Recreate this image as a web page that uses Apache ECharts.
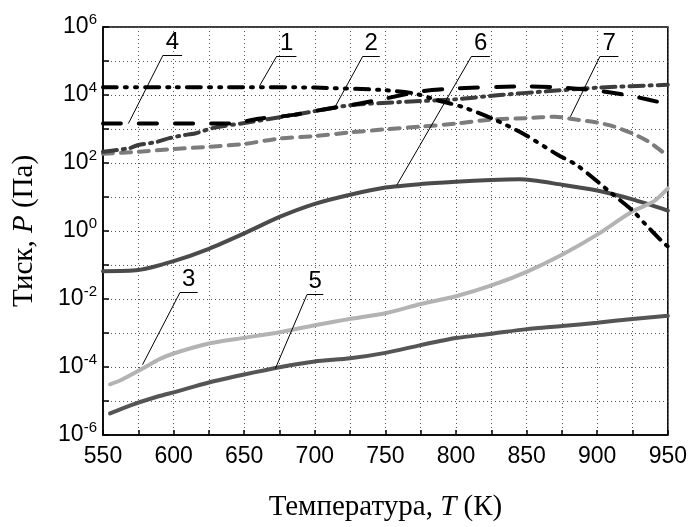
<!DOCTYPE html>
<html>
<head>
<meta charset="utf-8">
<script src="https://cdn.jsdelivr.net/npm/echarts@6/dist/echarts.min.js"></script>
<style>html,body{margin:0;padding:0;background:#fff}#c{width:690px;height:527px}</style>
</head>
<body>
<div id="c"></div>
<script>
// Temperature (K) and pressure (Pa) per curve
var t1 = [550, 600, 650, 700, 748, 770, 787, 805, 826, 847, 872, 886, 910, 925, 934, 946, 950];
var p1 = [1.7e4, 1.7e4, 1.7e4, 1.65e4, 1.4e4, 1.12e4, 7.0e3, 4.4e3, 2.0e3, 7.5e2, 1.75e2, 84, 13, 4, 1.6, 0.49, 0.35];

var t2 = [550, 569, 575, 587, 597, 606, 615, 629, 650, 685, 725, 760, 800, 831, 864, 902, 950];
var p2 = [214, 275, 340, 407, 537, 650, 740, 1.1e3, 1.5e3, 2.6e3, 5.0e3, 6.2e3, 7.5e3, 1.0e4, 1.28e4, 1.66e4, 2.0e4];

var t3 = [555, 562, 578, 590, 600, 625, 650, 675, 700, 725, 750, 775, 800, 825, 850, 875, 900, 925, 940, 950];
var p3 = [3.1e-5, 4.0e-5, 9.0e-5, 1.7e-4, 2.5e-4, 4.9e-4, 7.2e-4, 1.05e-3, 1.7e-3, 2.6e-3, 3.8e-3, 7.1e-3, 1.2e-2, 2.5e-2, 6.3e-2, 0.2, 0.78, 3.8, 7.4, 18];

var t4 = [550, 640, 660, 685, 700, 725, 750, 775, 800, 850, 875, 900, 925, 950];
var p4 = [1.45e3, 1.45e3, 2.0e3, 2.6e3, 3.4e3, 5.0e3, 7.9e3, 1.27e4, 1.56e4, 1.78e4, 1.66e4, 1.35e4, 9.2e3, 5.4e3];

var t5 = [555, 570, 590, 600, 625, 650, 675, 700, 725, 750, 775, 800, 825, 850, 875, 900, 925, 950];
var p5 = [4.3e-6, 7.6e-6, 1.4e-5, 1.8e-5, 3.5e-5, 6.0e-5, 9.8e-5, 1.45e-4, 1.8e-4, 2.6e-4, 4.4e-4, 7.1e-4, 9.5e-4, 1.3e-3, 1.6e-3, 2.0e-3, 2.6e-3, 3.2e-3];

var t6 = [550, 575, 600, 625, 650, 675, 700, 725, 750, 775, 800, 825, 845, 875, 900, 925, 950];
var p6 = [0.066, 0.071, 0.13, 0.30, 0.85, 2.6, 6.3, 11.7, 19, 24, 28, 31.6, 33, 23, 15.5, 8.5, 4];

var t7 = [550, 575, 600, 625, 650, 675, 700, 725, 750, 775, 800, 825, 850, 870, 885, 900, 912, 925, 937, 950];
var p7 = [186, 215, 257, 300, 363, 525, 617, 794, 977, 1175, 1445, 1900, 2090, 2290, 1900, 1550, 1175, 740, 410, 160];

// Curve label annotations: [text, underline T start, underline T end, label P, curve T, curve P]
var labels = [
  ['1', 673, 687, 1.38e5, 661, 1.9e4],
  ['2', 734, 746, 1.38e5, 714, 4.2e3],
  ['3', 604.5, 617, 1.55e-2, 578, 1.17e-4],
  ['4', 592.5, 606, 1.48e5, 568, 1.45e3],
  ['5', 694.5, 706, 1.35e-2, 672, 8.9e-5],
  ['6', 811, 824, 1.38e5, 758, 22],
  ['7', 902, 915, 1.38e5, 881, 2.3e3]
];

var xTicks = [550, 600, 650, 700, 750, 800, 850, 900, 950];

function zip(t, p) { return t.map(function (v, i) { return [v, p[i]]; }); }

function marks(idx) {
  var L = labels[idx];
  return {
    silent: true,
    symbol: 'none',
    animation: false,
    lineStyle: { color: '#000', width: 1, type: 'solid' },
    label: { show: false },
    emphasis: { disabled: true },
    data: [
      [{ coord: [L[1], L[3]], label: { show: true, formatter: L[0], position: 'insideMiddleTop', distance: 1, color: '#000', fontSize: 24, fontFamily: 'Liberation Sans, Arial, sans-serif' } },
       { coord: [L[2], L[3]] }],
      [{ coord: [L[1], L[3]] }, { coord: [L[4], L[5]] }]
    ]
  };
}

function mk(name, t, p, color, type, idx) {
  return {
    name: name, type: 'line', data: zip(t, p), showSymbol: false, symbol: 'none',
    smooth: 0.25, clip: true,
    lineStyle: { color: color, width: 4, type: type, cap: 'round' },
    markLine: marks(idx)
  };
}

var chart = echarts.init(document.getElementById('c'), null, { renderer: 'canvas' });
chart.setOption({
  animation: false,
  backgroundColor: '#fff',
  grid: { left: 103, right: 22, top: 27, bottom: 82, show: true, borderColor: '#000', borderWidth: 1.5, backgroundColor: 'transparent' },
  xAxis: {
    type: 'value', min: 550, max: 950, interval: 25,
    name: '{r|Температура, }{i|T}{r| (К)}',
    nameLocation: 'middle', nameGap: 58,
    nameTextStyle: { rich: {
      r: { fontFamily: 'Liberation Serif, Times New Roman, serif', fontSize: 29, color: '#000' },
      i: { fontFamily: 'Liberation Serif, Times New Roman, serif', fontSize: 29, fontStyle: 'italic', color: '#000' } } },
    axisLine: { lineStyle: { color: '#000', width: 1.5 } },
    axisTick: { inside: true, length: 5, lineStyle: { color: '#000', width: 1.5 } },
    axisLabel: {
      margin: 10, color: '#000', fontSize: 23, fontFamily: 'Liberation Sans, Arial, sans-serif',
      formatter: function (v) { return xTicks.indexOf(v) >= 0 ? String(v) : ''; }
    },
    splitLine: { show: true, lineStyle: { color: '#555', width: 1, type: [1, 3] } }
  },
  yAxis: {
    type: 'log', logBase: 10, min: 1e-6, max: 1e6, interval: 1,
    name: '{r|Тиск, }{i|P}{r| (Па)}',
    nameLocation: 'middle', nameGap: 64, nameRotate: 90,
    nameTextStyle: { rich: {
      r: { fontFamily: 'Liberation Serif, Times New Roman, serif', fontSize: 29, color: '#000' },
      i: { fontFamily: 'Liberation Serif, Times New Roman, serif', fontSize: 29, fontStyle: 'italic', color: '#000' } } },
    axisLine: { lineStyle: { color: '#000', width: 1.5 } },
    axisTick: { inside: true, length: 6, lineStyle: { color: '#000', width: 1.5 } },
    axisLabel: {
      margin: 6, color: '#000',
      formatter: function (v) {
        var e = Math.round(Math.log10(v));
        if (e % 2 !== 0) return '';
        return '{b|10}{s|' + e + '}';
      },
      rich: {
        b: { fontSize: 23, fontFamily: 'Liberation Sans, Arial, sans-serif', color: '#000' },
        s: { fontSize: 15, fontFamily: 'Liberation Sans, Arial, sans-serif', color: '#000', padding: [0, 0, 14, 0] }
      }
    },
    splitLine: { show: true, lineStyle: { color: '#555', width: 1, type: [1, 3] } }
  },
  series: [
    mk('6', t6, p6, '#4b4b4b', 'solid', 5),
    mk('5', t5, p5, '#555555', 'solid', 4),
    mk('3', t3, p3, '#b3b3b3', 'solid', 2),
    mk('7', t7, p7, '#7c7c7c', [10, 8], 6),
    mk('2', t2, p2, '#3c3c3c', [14, 6, 2, 6], 1),
    mk('4', t4, p4, '#000000', [18, 18], 3),
    mk('1', t1, p1, '#000000', [14, 8, 2, 8, 2, 8], 0)
  ]
});
</script>
</body>
</html>
